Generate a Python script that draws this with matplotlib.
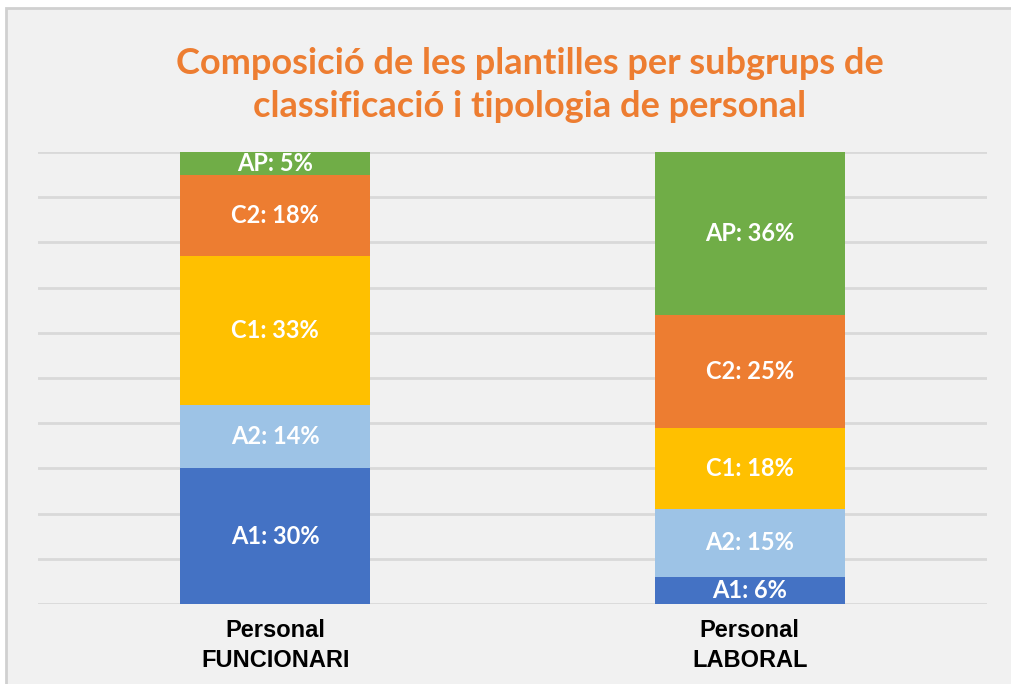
import matplotlib
matplotlib.use("Agg")
import matplotlib.pyplot as plt
from matplotlib.patches import Rectangle
import numpy as np

categories = ["Personal\nFUNCIONARI", "Personal\nLABORAL"]
groups = ["A1", "A2", "C1", "C2", "AP"]
funcionari = [30, 14, 33, 18, 5]
laboral = [6, 15, 18, 25, 36]
colors = ["#4472C4", "#9DC3E6", "#FFC000", "#ED7D31", "#70AD47"]
title = "Composició de les plantilles per subgrups de\nclassificació i tipologia de personal"

W, H = 1011, 684
fig = plt.figure(figsize=(W / 100, H / 100), dpi=100)
fig.patch.set_facecolor("white")
# chart area background + border
bg = Rectangle((6 / W, -0.05), 1.1, (H - 8) / H + 0.05, transform=fig.transFigure,
               facecolor="#F1F1F1", edgecolor="#D0D0D0", linewidth=2, zorder=-10)
fig.add_artist(bg)

ax = fig.add_axes([38 / W, 80 / H, 949 / W, 452 / H])
ax.set_zorder(5)
ax.set_facecolor("none")
ax.set_xlim(-0.5, 1.5)
ax.set_ylim(0, 100)

data = np.array([funcionari, laboral])
x = np.arange(len(categories))
bottom = np.zeros(len(categories))
for i, g in enumerate(groups):
    vals = data[:, i]
    ax.bar(x, vals, width=0.4, bottom=bottom, color=colors[i], zorder=3, linewidth=0)
    for xi, v, b in zip(x, vals, bottom):
        ax.text(xi, b + v / 2, f"{g}: {v}%", ha="center", va="center", color="white",
                fontsize=17, fontweight="bold", family="Lato", zorder=4)
    bottom += vals

for yv in range(0, 101, 10):
    ax.axhline(yv, color="#D9D9D9", linewidth=2, zorder=1)

for s in ax.spines.values():
    s.set_visible(False)
ax.set_yticks([])
ax.set_xticks(x)
ax.set_xticklabels(categories, fontsize=17, fontweight="bold", family="Liberation Sans",
                   color="black", linespacing=1.4)
ax.tick_params(axis="x", length=0, pad=11)

fig.text(530 / W, 1 - 85 / H, title, ha="center", va="center", fontsize=26, fontweight="bold",
         family="Lato", color="#ED7D31", linespacing=1.38)

fig.savefig("out.png", dpi=100, facecolor=fig.get_facecolor())
